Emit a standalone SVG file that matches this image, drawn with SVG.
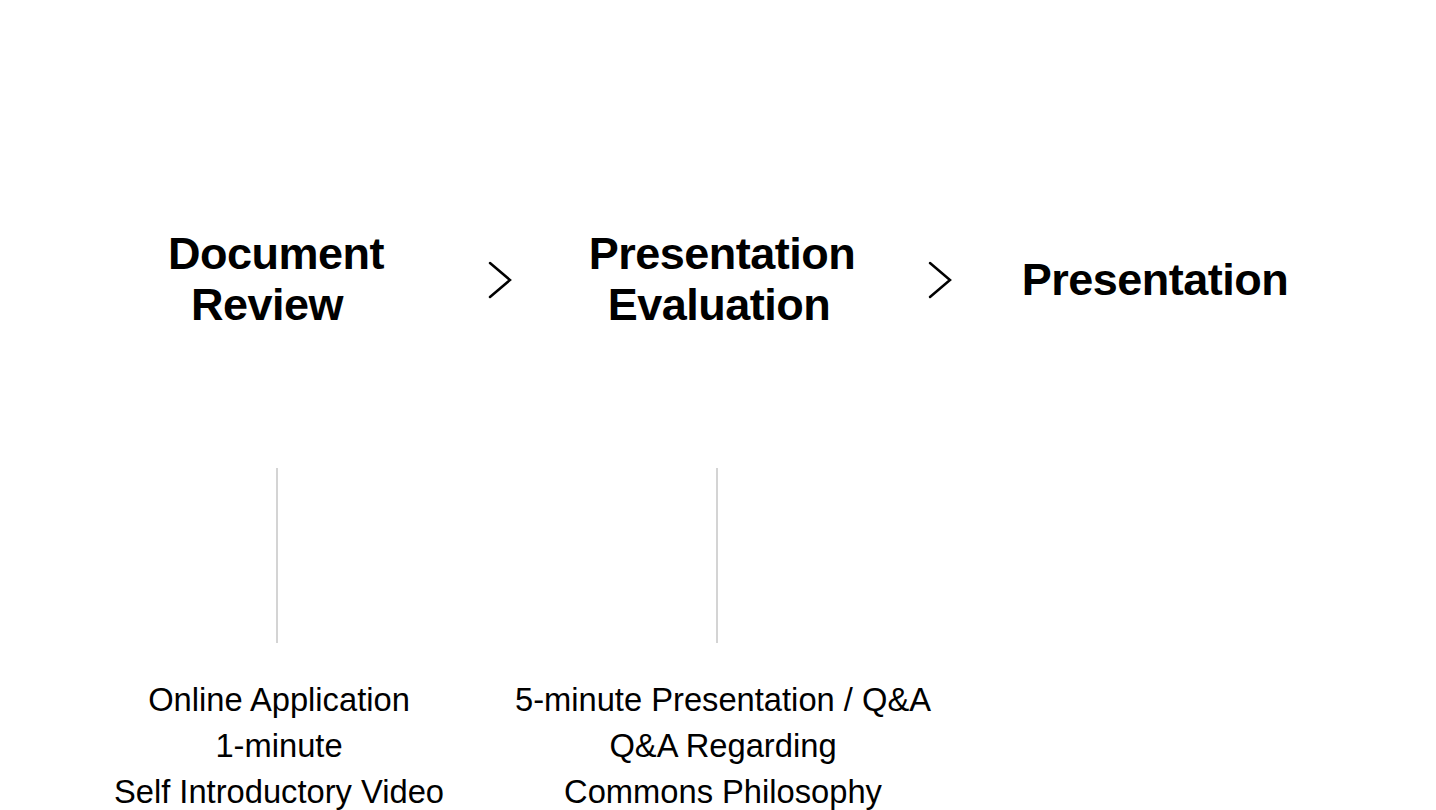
<svg xmlns="http://www.w3.org/2000/svg" width="1436" height="810" viewBox="0 0 1436 810">
<style>
.t{font-family:"Liberation Sans",Arial,sans-serif;font-weight:bold;font-size:45px;fill:#000;text-anchor:middle;letter-spacing:-0.5px}
.b{font-family:"Liberation Sans",Arial,sans-serif;font-size:32.7px;fill:#000;text-anchor:middle}
.v{stroke:#d4d4d4;stroke-width:2}
.c{fill:none;stroke:#000;stroke-width:2.5;stroke-linecap:round;stroke-linejoin:miter}
</style>
<rect width="1436" height="810" fill="#fff"/>
<g id="node-document-review">
<text class="t" x="276" y="269">Document</text>
<text class="t" x="267" y="320">Review</text>
<text class="b" x="279" y="711">Online Application</text>
<text class="b" x="279" y="757">1-minute</text>
<text class="b" x="279" y="803">Self Introductory Video</text>
</g>
<g id="node-presentation-evaluation">
<text class="t" x="722" y="269">Presentation</text>
<text class="t" x="719" y="320">Evaluation</text>
<text class="b" x="723" y="711">5-minute Presentation / Q&amp;A</text>
<text class="b" x="723" y="757">Q&amp;A Regarding</text>
<text class="b" x="723" y="803">Commons Philosophy</text>
</g>
<g id="node-presentation">
<text class="t" x="1155" y="295">Presentation</text>
</g>
<g id="connectors">
<path class="c" d="M490 263 L510 280 L490 297"/>
<path class="c" d="M930 263 L950 280 L930 297"/>
<line class="v" x1="277" y1="468" x2="277" y2="643"/>
<line class="v" x1="717" y1="468" x2="717" y2="643"/>
</g>
</svg>
